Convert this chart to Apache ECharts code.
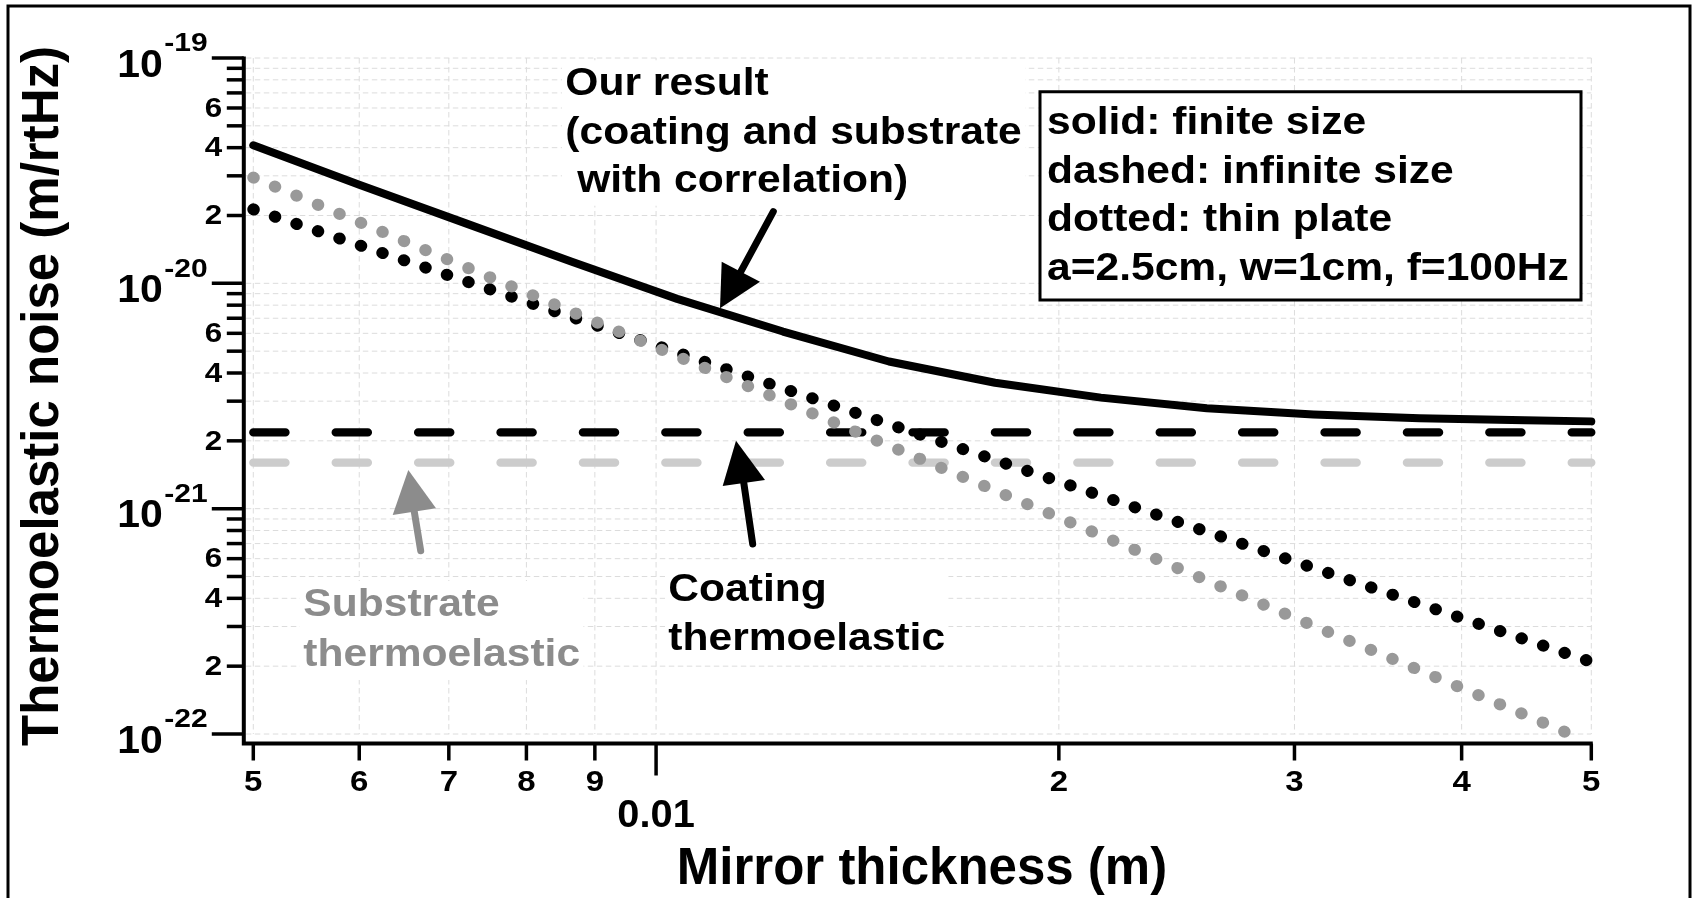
<!DOCTYPE html>
<html>
<head>
<meta charset="utf-8">
<script src="https://cdn.jsdelivr.net/npm/echarts@6/dist/echarts.min.js"></script>
<style>
  html, body { margin: 0; padding: 0; background: #fff; }
  #chart { width: 1696px; height: 898px; }
</style>
</head>
<body>
<div id="chart"></div>
<script>
// ---- data -------------------------------------------------------------
// Finite-size total noise (coating + substrate with correlation)
const thicknessTotal = [0.005, 0.006, 0.0072, 0.00864, 0.01037, 0.01244, 0.01493, 0.01792, 0.0215, 0.0258, 0.031, 0.0372, 0.0446, 0.05];
const noiseTotal = [4.10e-20, 2.74e-20, 1.85e-20, 1.25e-20, 8.53e-21, 6.11e-21, 4.50e-21, 3.62e-21, 3.11e-21, 2.79e-21, 2.62e-21, 2.52e-21, 2.47e-21, 2.44e-21];

// Thin-plate approximations
const thicknessCoatingPlate = [0.005, 0.01, 0.02, 0.03, 0.04, 0.05];
const noiseCoatingPlate = [2.13e-20, 5.30e-21, 1.32e-21, 5.83e-22, 3.27e-22, 2.09e-22];
const thicknessSubstratePlate = [0.005, 0.01, 0.02, 0.03, 0.04, 0.048];
const noiseSubstratePlate = [2.95e-20, 5.20e-21, 9.14e-22, 3.28e-22, 1.60e-22, 1.01e-22];

// Infinite-size results (independent of thickness)
const thicknessInfinite = [0.005, 0.05];
const noiseCoatingInfinite = [2.18e-21, 2.18e-21];
const noiseSubstrateInfinite = [1.60e-21, 1.60e-21];

// Axis ticks
const xTickValues = [0.005, 0.006, 0.007, 0.008, 0.009, 0.01, 0.02, 0.03, 0.04, 0.05];
const xTickLabels = ['5', '6', '7', '8', '9', '0.01', '2', '3', '4', '5'];
const yDecadeValues = [1e-22, 1e-21, 1e-20, 1e-19];
const yDecadeExponents = ['-22', '-21', '-20', '-19'];
const yMinorValues = [
  2e-22, 3e-22, 4e-22, 5e-22, 6e-22, 7e-22, 8e-22, 9e-22,
  2e-21, 3e-21, 4e-21, 5e-21, 6e-21, 7e-21, 8e-21, 9e-21,
  2e-20, 3e-20, 4e-20, 5e-20, 6e-20, 7e-20, 8e-20, 9e-20
];
const yMinorLabels = [
  '2', '', '4', '', '6', '', '', '',
  '2', '', '4', '', '6', '', '', '',
  '2', '', '4', '', '6', '', '', ''
];

const X_RANGE = [0.005, 0.05];
const Y_RANGE = [1e-22, 1e-19];

// ---- styling helpers --------------------------------------------------
const FONT = '"Liberation Sans", Arial, Helvetica, sans-serif';
const AXIS_GAP = 9.5;           // axis lines sit slightly outside the plot area
const GRID_STYLE = { stroke: '#dcdcdc', lineWidth: 1, lineDash: [5.5, 3.5] };
const TICK_STYLE = { stroke: '#000', lineWidth: 3.5 };

const zip = (xs, ys) => xs.map((x, i) => [x, ys[i]]);
const isDecade = v => Math.abs(Math.log10(v) - Math.round(Math.log10(v))) < 1e-9;

function label(x, y, text, size, align, scaleX, fill) {
  return {
    type: 'text', x: x, y: y, scaleX: scaleX || 1,
    style: {
      text: text, font: 'bold ' + size + 'px ' + FONT, fill: fill || '#000',
      align: align, textAlign: align, verticalAlign: 'middle', textVerticalAlign: 'middle'
    }
  };
}

// x ticks, vertical grid lines and their labels
function renderXTick(params, api) {
  const i = params.dataIndex;
  const pt = api.coord([api.value(0), api.value(1)]);
  const cs = params.coordSys;
  const axisY = cs.y + cs.height + AXIS_GAP;
  const major = isDecade(xTickValues[i]);
  return {
    type: 'group',
    children: [
      { type: 'line', shape: { x1: pt[0], y1: cs.y, x2: pt[0], y2: cs.y + cs.height }, style: GRID_STYLE },
      { type: 'line', shape: { x1: pt[0], y1: axisY, x2: pt[0], y2: axisY + (major ? 32 : 17) }, style: TICK_STYLE },
      major
        ? label(pt[0], axisY + 73, xTickLabels[i], 39, 'center', 1.02)
        : label(pt[0], axisY + 39, xTickLabels[i], 30, 'center', 1.1)
    ]
  };
}

// y decade ticks with 10^n labels
function renderYDecade(params, api) {
  const i = params.dataIndex;
  const pt = api.coord([api.value(0), api.value(1)]);
  const cs = params.coordSys;
  const ax = cs.x - AXIS_GAP;
  return {
    type: 'group',
    children: [
      { type: 'line', shape: { x1: ax + 2, y1: pt[1], x2: cs.x + cs.width, y2: pt[1] }, style: GRID_STYLE },
      { type: 'line', shape: { x1: ax - 32, y1: pt[1], x2: ax, y2: pt[1] }, style: TICK_STYLE },
      label(ax - 81, pt[1] + 8, '10', 39, 'right', 1.05),
      label(ax - 79.5, pt[1] - 13.5, yDecadeExponents[i], 25, 'left', 1.2)
    ]
  };
}

// y minor ticks (2..9 per decade)
function renderYMinor(params, api) {
  const i = params.dataIndex;
  const pt = api.coord([api.value(0), api.value(1)]);
  const cs = params.coordSys;
  const ax = cs.x - AXIS_GAP;
  const children = [
    { type: 'line', shape: { x1: ax + 2, y1: pt[1], x2: cs.x + cs.width, y2: pt[1] }, style: GRID_STYLE },
    { type: 'line', shape: { x1: ax - 17, y1: pt[1], x2: ax, y2: pt[1] }, style: TICK_STYLE }
  ];
  if (yMinorLabels[i]) children.push(label(ax - 21.5, pt[1] + 1, yMinorLabels[i], 28, 'right', 1.12));
  return { type: 'group', children: children };
}

// the two axis lines, joined at the lower-left corner
function renderAxes(params, api) {
  const cs = params.coordSys;
  const ax = cs.x - AXIS_GAP;
  const ay = cs.y + cs.height + AXIS_GAP;
  return {
    type: 'polyline',
    shape: { points: [[ax, cs.y - 1.5], [ax, ay], [cs.x + cs.width + 1.5, ay]] },
    style: { stroke: '#000', lineWidth: 4, fill: null, lineJoin: 'miter' }
  };
}

function arrow(tail, baseMid, tip, baseA, baseB, color) {
  return [
    { type: 'line', z: 20, shape: { x1: tail[0], y1: tail[1], x2: baseMid[0], y2: baseMid[1] },
      style: { stroke: color, lineWidth: 7, lineCap: 'round' } },
    { type: 'polygon', z: 20, shape: { points: [tip, baseA, baseB] }, style: { fill: color } }
  ];
}

function textBlock(x, top, text, lineHeight, fill, withBg) {
  return {
    type: 'text', x: x, y: top, z: 15, scaleX: 1.12,
    style: {
      text: text, font: 'bold 38px ' + FONT, fill: fill, lineHeight: lineHeight,
      align: 'left', textAlign: 'left', verticalAlign: 'top', textVerticalAlign: 'top',
      backgroundColor: withBg ? '#fff' : null, padding: withBg ? [0, 3, 0, 3] : 0
    }
  };
}

const chart = echarts.init(document.getElementById('chart'), null, { renderer: 'canvas' });

chart.setOption({
  animation: false,
  backgroundColor: '#fff',
  grid: { left: 253.3, right: 104.7, top: 58, bottom: 164, outerBoundsMode: 'none', containLabel: false },
  xAxis: {
    type: 'log', logBase: 10, min: X_RANGE[0], max: X_RANGE[1],
    axisLine: { show: false }, axisTick: { show: false }, axisLabel: { show: false },
    splitLine: { show: false }, minorTick: { show: false }, minorSplitLine: { show: false }
  },
  yAxis: {
    type: 'log', logBase: 10, min: Y_RANGE[0], max: Y_RANGE[1],
    axisLine: { show: false }, axisTick: { show: false }, axisLabel: { show: false },
    splitLine: { show: false }, minorTick: { show: false }, minorSplitLine: { show: false }
  },
  series: [
    { type: 'custom', name: 'x ticks', coordinateSystem: 'cartesian2d', clip: false, silent: true, z: 1,
      data: xTickValues.map(v => [v, Y_RANGE[0]]), renderItem: renderXTick },
    { type: 'custom', name: 'y decades', coordinateSystem: 'cartesian2d', clip: false, silent: true, z: 1,
      data: yDecadeValues.map(v => [X_RANGE[0], v]), renderItem: renderYDecade },
    { type: 'custom', name: 'y minor', coordinateSystem: 'cartesian2d', clip: false, silent: true, z: 1,
      data: yMinorValues.map(v => [X_RANGE[0], v]), renderItem: renderYMinor },
    { type: 'custom', name: 'axes', coordinateSystem: 'cartesian2d', clip: false, silent: true, z: 5,
      data: [[X_RANGE[0], Y_RANGE[0]]], renderItem: renderAxes },

    { type: 'line', name: 'Substrate, infinite size', data: zip(thicknessInfinite, noiseSubstrateInfinite),
      symbol: 'none', silent: true, z: 2,
      lineStyle: { color: '#cccccc', width: 8.3, type: [32.2, 50.2], cap: 'round' } },
    { type: 'line', name: 'Coating, infinite size', data: zip(thicknessInfinite, noiseCoatingInfinite),
      symbol: 'none', silent: true, z: 2,
      lineStyle: { color: '#000', width: 8.3, type: [32.2, 50.2], cap: 'round' } },
    { type: 'line', name: 'Coating, thin plate', data: zip(thicknessCoatingPlate, noiseCoatingPlate),
      symbol: 'none', silent: true, z: 3,
      lineStyle: { color: '#000', width: 12, type: [0.5, 22.19], cap: 'round' } },
    { type: 'line', name: 'Substrate, thin plate', data: zip(thicknessSubstratePlate, noiseSubstratePlate),
      symbol: 'none', silent: true, z: 3,
      lineStyle: { color: '#999999', width: 12, type: [0.5, 22.83], cap: 'round' } },
    { type: 'line', name: 'Our result, finite size', data: zip(thicknessTotal, noiseTotal),
      symbol: 'none', silent: true, z: 4,
      lineStyle: { color: '#000', width: 8, cap: 'round', join: 'round' } }
  ],
  graphic: [
    // outer frame
    { type: 'rect', z: 30, shape: { x: 8, y: 6, width: 1682, height: 1000 },
      style: { fill: null, stroke: '#000', lineWidth: 3 } },
    // axis titles
    { type: 'text', x: 922, y: 870, z: 15,
      style: { text: 'Mirror thickness (m)', font: 'bold 51px ' + FONT, fill: '#000',
               align: 'center', textAlign: 'center', verticalAlign: 'middle', textVerticalAlign: 'middle' } },
    { type: 'text', x: 44, y: 396, rotation: Math.PI / 2, z: 15,
      style: { text: 'Thermoelastic noise (m/rtHz)', font: 'bold 51px ' + FONT, fill: '#000',
               align: 'center', textAlign: 'center', verticalAlign: 'middle', textVerticalAlign: 'middle' } },
    // annotations
    textBlock(562, 60.3, 'Our result\n(coating and substrate\n with correlation)', 48.5, '#000', true),
    textBlock(665, 566.5, 'Coating\nthermoelastic', 48.5, '#000', true),
    textBlock(300, 581, 'Substrate\nthermoelastic', 49.5, '#8c8c8c', true),
    // legend box
    { type: 'rect', z: 14, shape: { x: 1040, y: 91.7, width: 541, height: 208.3 },
      style: { fill: '#fff', stroke: '#000', lineWidth: 3 } },
    textBlock(1047, 99.5, 'solid: finite size\ndashed: infinite size\ndotted: thin plate\na=2.5cm, w=1cm, f=100Hz', 48.5, '#000', false),
    // arrows
    ...arrow([773.3, 211.7], [740.8, 271.7], [720, 308.3], [721.7, 261.7], [760, 281.7], '#000'),
    ...arrow([752.7, 544], [743.8, 483], [736, 440.7], [722.7, 486], [765, 480], '#000'),
    ...arrow([420.7, 550.7], [414.3, 511.7], [408.3, 470], [392.7, 515], [436, 508.3], '#8c8c8c')
  ]
});
</script>
</body>
</html>
